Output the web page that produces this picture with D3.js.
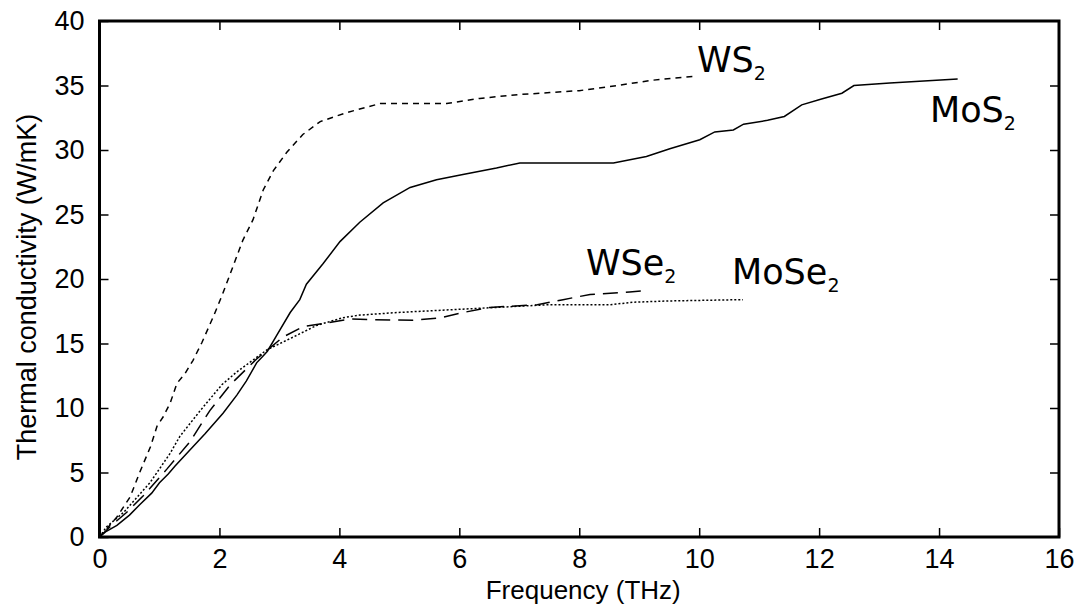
<!DOCTYPE html>
<html><head><meta charset="utf-8">
<script src="https://cdn.jsdelivr.net/npm/d3@7"></script>
<style>body{margin:0;background:#fff}</style>
</head><body>
<svg id="c" width="1082" height="605"></svg>
<script>
const xTicks = [0,2,4,6,8,10,12,14,16];
const yTicks = [0,5,10,15,20,25,30,35,40];
const mos2X = [0,0.1,0.29,0.5,0.67,0.87,1.0,1.15,1.26,1.5,1.76,2.06,2.29,2.45,2.62,2.72,2.8,2.95,3.18,3.34,3.45,3.73,4.01,4.34,4.73,5.18,5.62,6.06,6.62,7.01,8.57,9.12,9.51,10.01,10.26,10.57,10.74,11.14,11.42,11.71,12.04,12.38,12.58,13.18,14.31];
const mos2Y = [0,0.4,0.9,1.7,2.5,3.4,4.2,4.9,5.5,6.7,8.0,9.6,11.0,12.1,13.5,14.0,14.4,15.6,17.4,18.4,19.6,21.2,22.9,24.4,25.9,27.1,27.7,28.1,28.6,29.0,29.0,29.5,30.1,30.8,31.4,31.55,32.0,32.3,32.6,33.5,33.95,34.4,35.0,35.2,35.5];
const ws2X = [0,0.15,0.29,0.51,0.67,0.85,0.96,1.06,1.18,1.29,1.43,1.56,1.71,1.9,2.05,2.39,2.56,2.73,2.9,3.12,3.39,3.68,4.12,4.68,5.0,5.79,6.34,7.0,7.51,8.0,8.64,9.2,9.9];
const ws2Y = [0,0.8,1.55,3.1,5.0,7.0,8.6,9.3,10.4,11.9,12.7,13.7,15.1,17.1,18.8,23.0,24.6,26.9,28.4,29.8,31.2,32.2,32.9,33.6,33.6,33.6,34.0,34.3,34.45,34.6,35.0,35.4,35.7];
const wse2X = [0,0.2,0.45,0.73,1.13,1.51,1.84,2.18,2.62,3.06,3.39,3.79,4.18,4.6,5.23,5.7,6.06,6.51,7.3,7.73,8.18,8.84,9.12];
const wse2Y = [0,0.9,1.9,3.2,5.3,7.4,9.8,11.8,13.8,15.5,16.3,16.6,16.9,16.85,16.8,17.0,17.4,17.8,18.0,18.4,18.8,19.0,19.1];
const mose2X = [0,0.12,0.4,0.84,1.18,1.34,1.68,2.04,2.29,2.79,3.23,3.62,4.06,4.34,4.96,5.79,6.63,7.46,8.5,8.9,9.5,10.73];
const mose2Y = [0,0.8,1.9,4.2,6.5,7.8,9.8,11.8,12.8,14.5,15.5,16.4,17.0,17.2,17.4,17.6,17.8,18.0,18.0,18.2,18.3,18.4];
const seriesNames = ["MoS2","WS2","WSe2","MoSe2"];
const xTitle = "Frequency (THz)";
const yTitle = "Thermal conductivity (W/mK)";

const svg = d3.select("#c");
const L=99.5, R=1059, T=21, B=537;
const x = d3.scaleLinear().domain([0,16]).range([L,R]);
const y = d3.scaleLinear().domain([0,40]).range([B,T]);
const tickFont = "Liberation Sans, Arial, sans-serif";

function styleAxis(g, showLabels){
  g.select(".domain").remove();
  g.selectAll(".tick line").attr("stroke","#000").attr("stroke-width",1.5);
  g.selectAll(".tick text").attr("font-family",tickFont).attr("font-size",27).attr("fill","#000");
  if(!showLabels) g.selectAll(".tick text").remove();
}
svg.append("g").attr("transform",`translate(0,${B})`)
  .call(d3.axisBottom(x).tickValues(xTicks).tickSize(-9).tickPadding(12).tickFormat(d3.format("d")))
  .call(g=>styleAxis(g,true));
svg.append("g").attr("transform",`translate(0,${T})`)
  .call(d3.axisTop(x).tickValues(xTicks.slice(1,-1)).tickSize(-9))
  .call(g=>styleAxis(g,false));
svg.append("g").attr("transform",`translate(${L},0)`)
  .call(d3.axisLeft(y).tickValues(yTicks).tickSize(-9).tickPadding(15).tickFormat(d3.format("d")))
  .call(g=>styleAxis(g,true));
svg.append("g").attr("transform",`translate(${R},0)`)
  .call(d3.axisRight(y).tickValues(yTicks.slice(1,-1)).tickSize(-9))
  .call(g=>styleAxis(g,false));

const line = d3.line().x(d=>x(d[0])).y(d=>y(d[1]));
const series = [
  {xs:mos2X, ys:mos2Y, dash:null},
  {xs:ws2X, ys:ws2Y, dash:"6,5"},
  {xs:wse2X, ys:wse2Y, dash:"15,8"},
  {xs:mose2X, ys:mose2Y, dash:"2,2"}
];
series.forEach(s=>{
  svg.append("path").datum(d3.zip(s.xs,s.ys)).attr("d",line)
    .attr("fill","none").attr("stroke","#000").attr("stroke-width",1.5)
    .attr("stroke-dasharray",s.dash);
});

svg.append("rect").attr("x",L).attr("y",T).attr("width",R-L).attr("height",B-T)
  .attr("fill","none").attr("stroke","#000").attr("stroke-width",3);

const labels = [
  {main:"WS", px:697, py:72},
  {main:"MoS", px:930, py:122},
  {main:"WSe", px:586, py:275},
  {main:"MoSe", px:732, py:284}
];
labels.forEach(l=>{
  const t = svg.append("text").attr("x",l.px).attr("y",l.py)
    .attr("font-family","DejaVu Sans, sans-serif").attr("font-size",35).attr("fill","#000");
  t.append("tspan").text(l.main);
  t.append("tspan").attr("font-size",19).attr("dy",8).text("2");
});

svg.append("text").attr("x",(L+R)/2+4).attr("y",599).attr("text-anchor","middle")
  .attr("font-family",tickFont).attr("font-size",26).text(xTitle);
svg.append("text").attr("transform",`translate(36,${(T+B)/2+8}) rotate(-90)`).attr("text-anchor","middle")
  .attr("font-family",tickFont).attr("font-size",27).text(yTitle);
</script>
</body></html>
